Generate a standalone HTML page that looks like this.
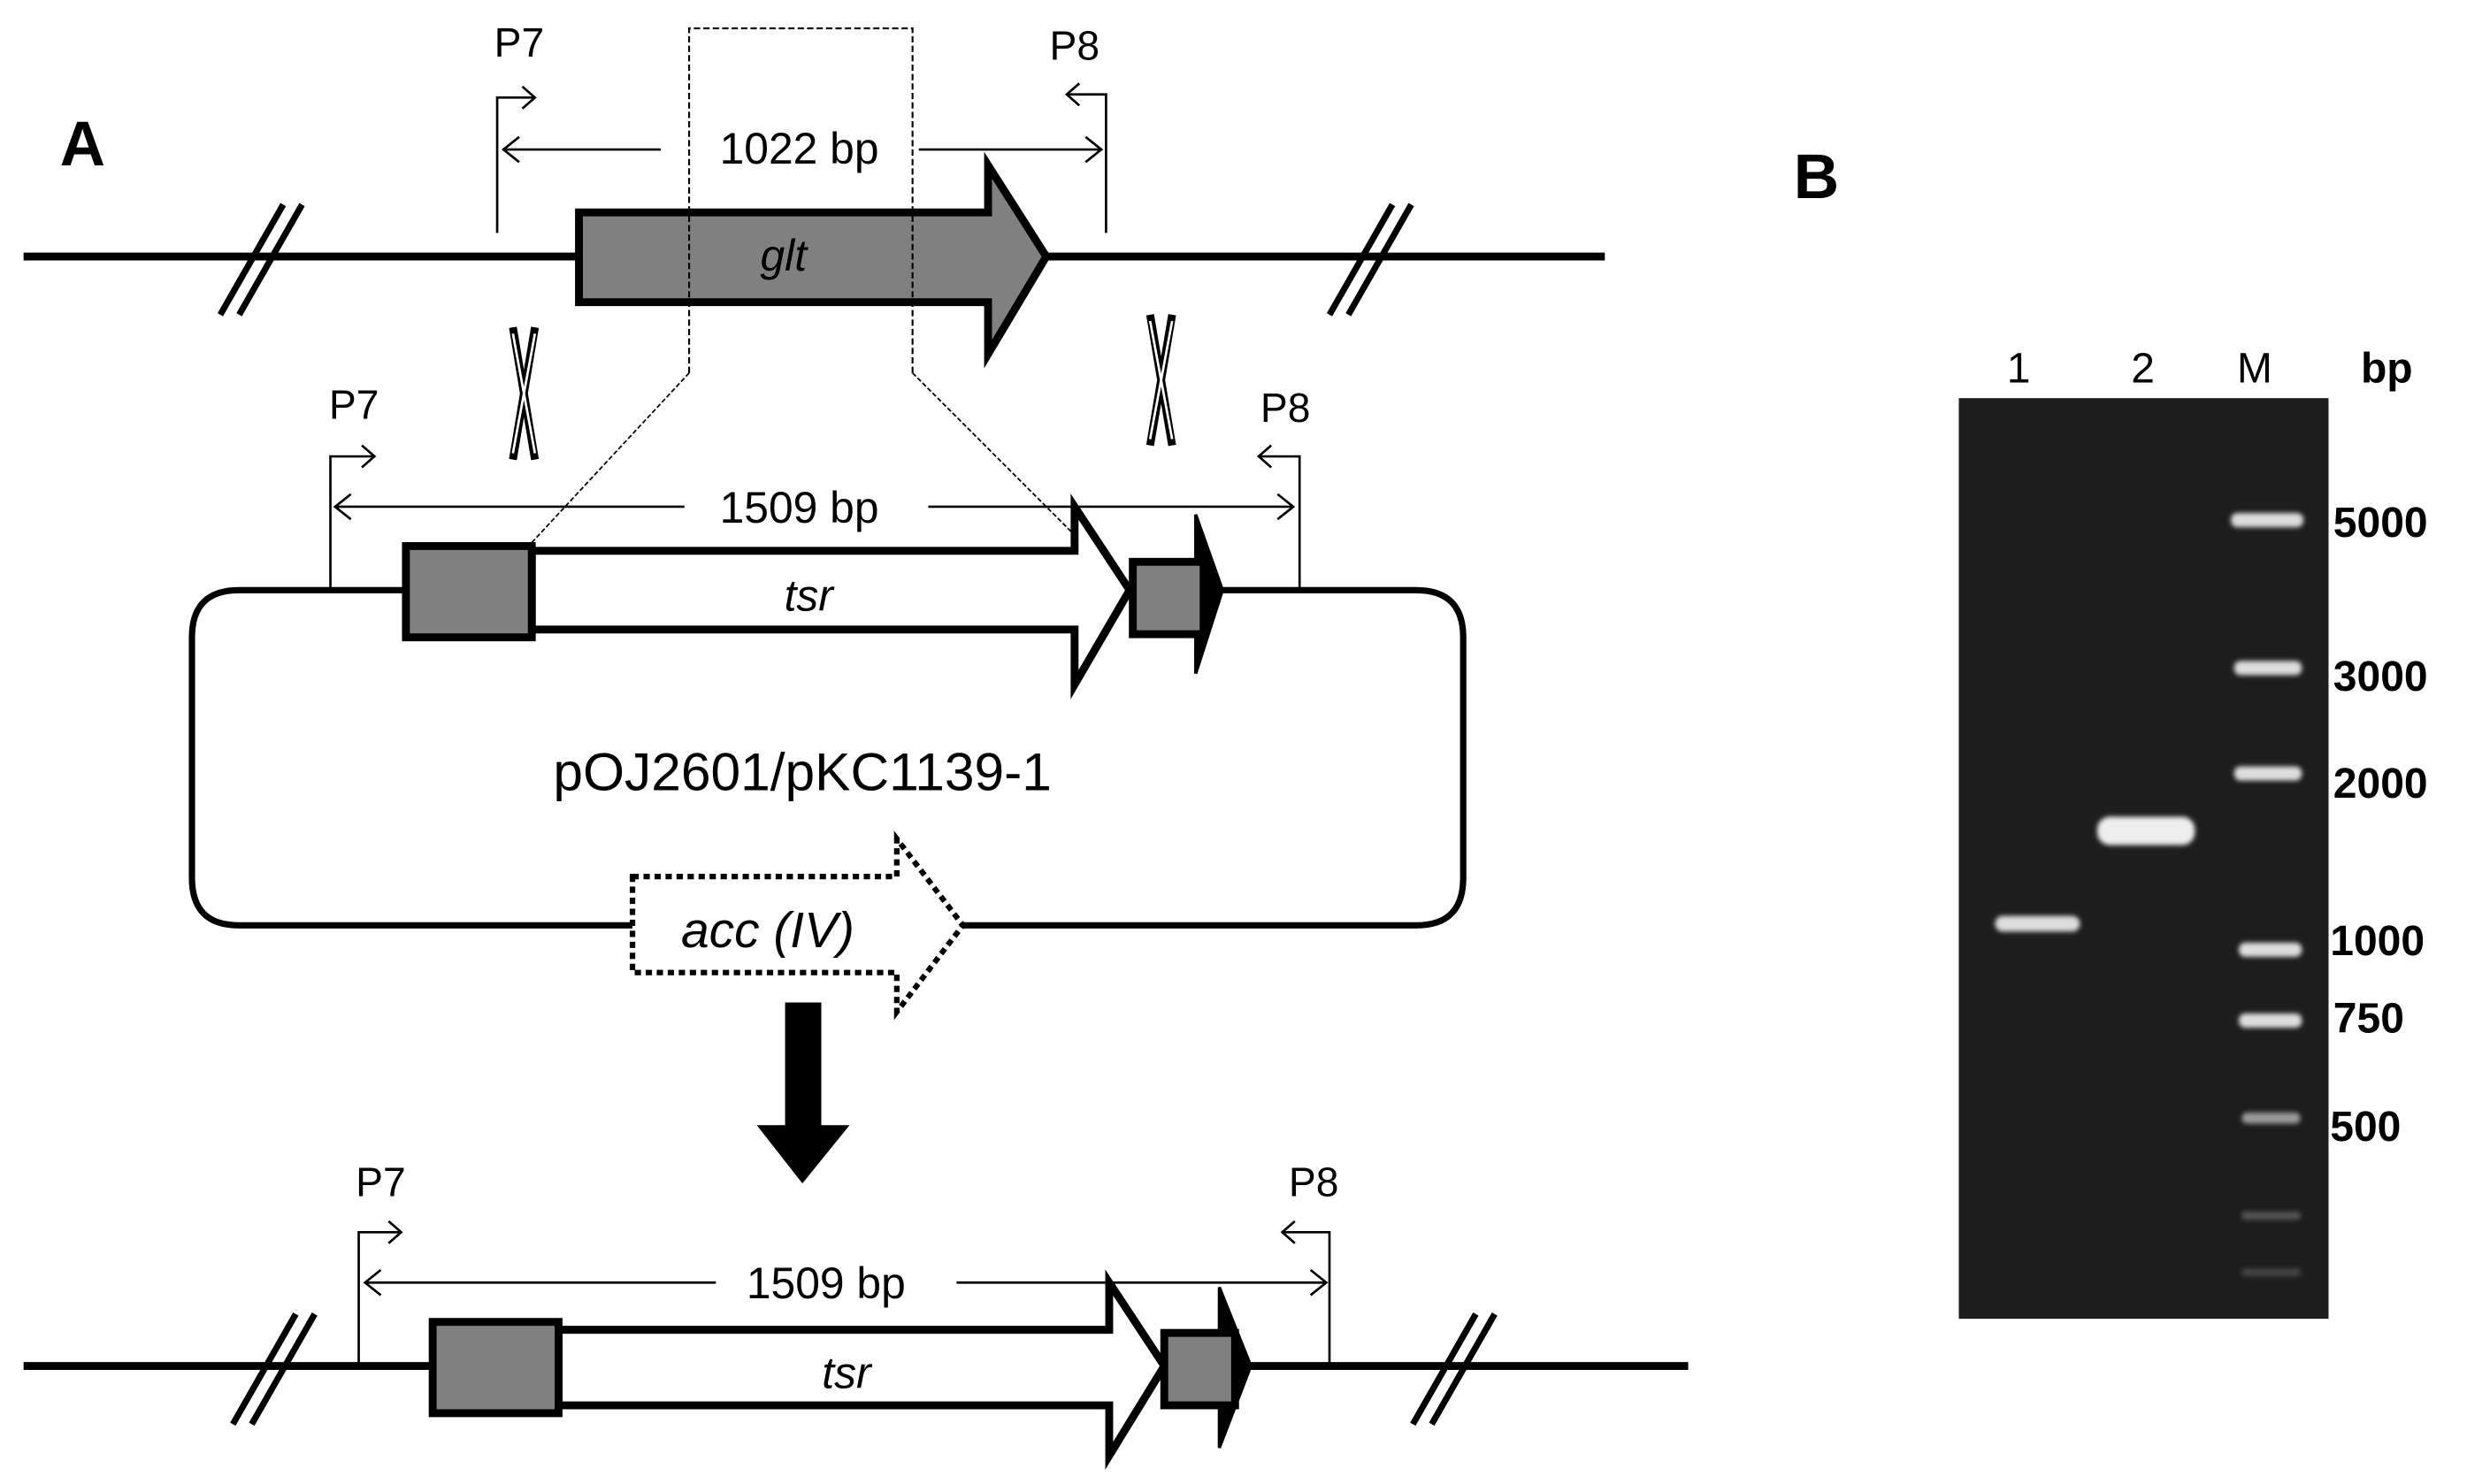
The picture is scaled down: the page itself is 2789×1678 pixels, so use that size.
<!DOCTYPE html>
<html><head><meta charset="utf-8"><style>html,body{margin:0;padding:0;background:#fff}svg{display:block}</style></head>
<body>
<svg width="2789" height="1678" viewBox="0 0 1568 943" preserveAspectRatio="none" xmlns="http://www.w3.org/2000/svg" font-family="Liberation Sans, sans-serif">
<defs>
<filter id="bl"><feGaussianBlur stdDeviation="1.5"/></filter>
</defs>
<text x="38" y="105" font-size="40" font-weight="bold">A</text>
<line x1="15" y1="163" x2="1020" y2="163" stroke="#000" stroke-width="5"/>
<g stroke="#000" stroke-width="4"><line x1="140" y1="200" x2="180" y2="130"/><line x1="152" y1="200" x2="192" y2="130"/>
<line x1="845" y1="200" x2="885" y2="130"/><line x1="857" y1="200" x2="897" y2="130"/></g>
<path d="M368,135 L628,135 L628,105 L665,163 L628,225 L628,192 L368,192 Z" fill="#808080" stroke="#000" stroke-width="5" stroke-linejoin="miter"/>
<text x="498" y="172" font-size="28" font-style="italic" text-anchor="middle">glt</text>
<g stroke="#000" stroke-width="1.5" fill="none">
<path d="M316,148 V62 H340 M332,55 L340,62 L332,69"/>
<path d="M703,148 V60 H678 M686,53 L678,60 L686,67"/>
<path d="M320,95 H420 M330,87 L320,95 L330,103 M584,95 H700 M690,87 L700,95 L690,103"/>
</g>
<text x="330" y="36" font-size="26" text-anchor="middle">P7</text>
<text x="683" y="38" font-size="26" text-anchor="middle">P8</text>
<text x="508" y="104" font-size="28" text-anchor="middle">1022 bp</text>
<path d="M438,237 V18 H580 V237" fill="none" stroke="#000" stroke-width="1.2" stroke-dasharray="4,2"/>
<path d="M438,237 L335,348 M580,237 L718,375" fill="none" stroke="#000" stroke-width="1" stroke-dasharray="3,1.5"/>
<!-- crossovers: X shapes -->
<g fill="none" stroke="#000" stroke-width="5" stroke-linecap="butt">
<path d="M326,208 L340,292 M340,208 L326,292"/>
<path d="M731,200 L745,283 M745,200 L731,283"/>
</g>
<g fill="none" stroke="#fff" stroke-width="1.5">
<path d="M326,212 L340,288 M340,212 L326,288"/>
<path d="M731,204 L745,279 M745,204 L731,279"/>
</g>
<path d="M258,375 H152 Q122,375 122,405 V558 Q122,588 152,588 H402 M612,588 H900 Q930,588 930,558 V405 Q930,375 900,375 H777" fill="none" stroke="#000" stroke-width="4"/>
<g stroke="#000" stroke-width="1.5" fill="none">
<path d="M210,375 V290 H238 M230,283 L238,290 L230,297"/>
<path d="M826,375 V290 H800 M808,283 L800,290 L808,297"/>
<path d="M213,322 H435 M223,314 L213,322 L223,330 M590,322 H822 M812,314 L822,322 L812,330"/>
</g>
<text x="225" y="266" font-size="26" text-anchor="middle">P7</text>
<text x="817" y="268" font-size="26" text-anchor="middle">P8</text>
<text x="508" y="332" font-size="28" text-anchor="middle">1509 bp</text>
<path d="M338,350 H683 V322 L718,375 L683,435 V400 H338 Z" fill="#fff" stroke="#000" stroke-width="5"/>
<rect x="258" y="347" width="80" height="58" fill="#808080" stroke="#000" stroke-width="5"/>
<path d="M760,327 L777,375 L760,428 Z" fill="#000" stroke="#000" stroke-width="2"/>
<rect x="720" y="357" width="45" height="46" fill="#808080" stroke="#000" stroke-width="5"/>
<text x="514" y="388" font-size="28" font-style="italic" text-anchor="middle">tsr</text>
<text x="510" y="502" font-size="34" text-anchor="middle">pOJ2601/pKC1139-1</text>
<path d="M402,557 H570 V533 L612,588 L570,643 V618 H402 Z" fill="#fff" stroke="#000" stroke-width="3.5" stroke-dasharray="4,3"/>
<text x="488" y="602" font-size="32" font-style="italic" text-anchor="middle">acc (IV)</text>
<path d="M499,637 H522 V715 H540 L510,752 L481,715 H499 Z" fill="#000"/>
<line x1="15" y1="868" x2="1073" y2="868" stroke="#000" stroke-width="5"/>
<g stroke="#000" stroke-width="4"><line x1="148" y1="905" x2="188" y2="835"/><line x1="160" y1="905" x2="200" y2="835"/>
<line x1="898" y1="905" x2="938" y2="835"/><line x1="910" y1="905" x2="950" y2="835"/></g>
<g stroke="#000" stroke-width="1.5" fill="none">
<path d="M228,868 V783 H255 M247,776 L255,783 L247,790"/>
<path d="M845,868 V783 H815 M823,776 L815,783 L823,790"/>
<path d="M232,815 H455 M242,807 L232,815 L242,823 M608,815 H843 M833,807 L843,815 L833,823"/>
</g>
<text x="242" y="760" font-size="26" text-anchor="middle">P7</text>
<text x="835" y="760" font-size="26" text-anchor="middle">P8</text>
<text x="525" y="825" font-size="28" text-anchor="middle">1509 bp</text>
<path d="M355,845 H705 V815 L740,868 L705,925 V893 H355 Z" fill="#fff" stroke="#000" stroke-width="5"/>
<rect x="275" y="840" width="80" height="58" fill="#808080" stroke="#000" stroke-width="5"/>
<path d="M775,818 L795,868 L775,920 Z" fill="#000" stroke="#000" stroke-width="2"/>
<rect x="740" y="847" width="45" height="46" fill="#808080" stroke="#000" stroke-width="5"/>
<text x="538" y="882" font-size="28" font-style="italic" text-anchor="middle">tsr</text>
<text x="1140" y="126" font-size="40" font-weight="bold">B</text>
<g font-size="27" text-anchor="middle"><text x="1283" y="243">1</text><text x="1362" y="243">2</text><text x="1433" y="243">M</text><text x="1517" y="243" font-weight="bold">bp</text></g>
<rect x="1245" y="253" width="235" height="585" fill="#1d1d1d"/>
<g fill="#ddd" filter="url(#bl)">
<rect x="1418" y="326" width="46" height="9" rx="4"/>
<rect x="1420" y="420" width="43" height="9" rx="4"/>
<rect x="1420" y="487" width="43" height="9" rx="4"/>
<rect x="1423" y="599" width="40" height="9" rx="4"/>
<rect x="1423" y="644" width="40" height="9" rx="4"/>
<rect x="1425" y="707" width="37" height="7" rx="3" fill="#999"/>
<rect x="1425" y="770" width="37" height="5" fill="#555"/>
<rect x="1425" y="806" width="37" height="5" fill="#444"/>
<rect x="1268" y="582" width="54" height="10" rx="5"/>
<rect x="1333" y="519" width="62" height="18" rx="8" fill="#eee"/>
</g>
<g font-size="27" font-weight="bold"><text x="1483" y="341">5000</text><text x="1483" y="439">3000</text><text x="1483" y="507">2000</text><text x="1481" y="607">1000</text><text x="1483" y="656">750</text><text x="1481" y="725">500</text></g>
</svg>
</body></html>
